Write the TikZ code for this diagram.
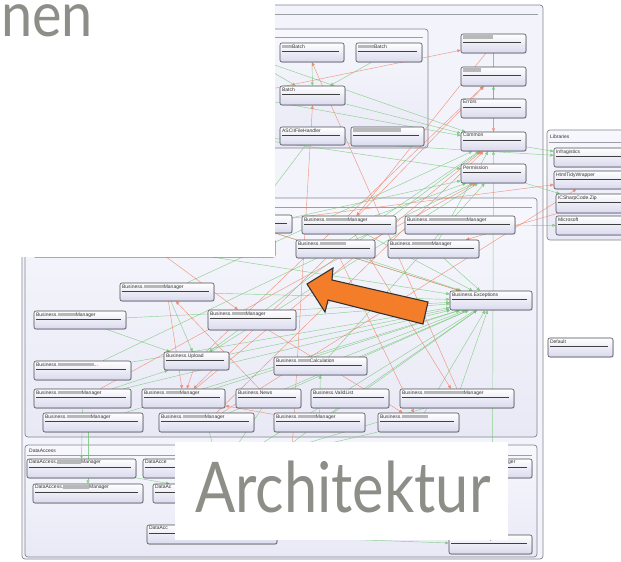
\documentclass[tikz,border=0pt]{standalone}
\usepackage{fontspec}
\setmainfont{Liberation Sans}
\newfontfamily\boxfont{Liberation Sans}
\newfontfamily\slidefont{Lato}
\usetikzlibrary{arrows.meta,shadows}

\definecolor{lav}{HTML}{D9D9EE}
\definecolor{boxline}{HTML}{4C4C55}
\definecolor{framefill}{HTML}{E9E9F6}
\definecolor{framefilltop}{HTML}{F7F7FD}
\definecolor{outerfill}{HTML}{F3F3FB}
\definecolor{frameline}{HTML}{85858F}
\definecolor{depgreen}{HTML}{72C872}
\definecolor{depred}{HTML}{EF8062}
\definecolor{slidegray}{HTML}{8E8E89}
\definecolor{arroworange}{HTML}{F47D2A}

\pgfdeclarelayer{frames}
\pgfdeclarelayer{edges}
\pgfdeclarelayer{cover}
\pgfsetlayers{frames,edges,main,cover}

\tikzset{
  klassbox/.style={draw=boxline, line width=0.6pt, rounded corners=2pt,
    top color=white, bottom color=lav, inner sep=0pt,
    drop shadow={shadow xshift=0.7pt, shadow yshift=-0.7pt, opacity=0.3}},
  klasstext/.style={anchor=north west, inner sep=0pt,
    font=\boxfont\fontsize{5}{5}\selectfont, text=black!80},
  klassrule/.style={draw=black!75, line width=0.55pt},
  groupbox/.style={draw=frameline, line width=0.7pt, rounded corners=3pt,
    top color=framefilltop, bottom color=framefill, inner sep=0pt},
  outerbox/.style={draw=frameline, line width=0.7pt, rounded corners=3pt,
    fill=outerfill, inner sep=0pt},
  grouprule/.style={draw=frameline!80, line width=0.5pt},
  grouptitle/.style={anchor=west, inner sep=0pt,
    font=\boxfont\fontsize{5}{5}\selectfont, text=black!80},
  gdep/.style={draw=depgreen, line width=0.45pt, opacity=0.8,
    -{Triangle[length=3.4pt,width=3pt]}},
  rdep/.style={draw=depred, line width=0.45pt, opacity=0.8,
    -{Triangle[length=3.4pt,width=3pt]}},
  slidetitle/.style={inner sep=0pt, text=slidegray, font=\slidefont},
  bigarrow/.style={fill=arroworange, draw=black!80, line width=1.1pt, line join=miter}
}

% blurred part of a class name
\newcommand\smear[1]{\textcolor{black!28}{\rule[-0.2pt]{#1pt}{3.6pt}}}

% class box: name, x1, y1, x2, y2, label
\newcommand\klass[6]{%
  \pgfmathsetmacro\klW{#4-#2}%
  \pgfmathsetmacro\klH{#5-#3}%
  \node[klassbox, minimum width=\klW pt, minimum height=\klH pt] (#1) at ({(#2+#4)/2},{(#3+#5)/2}) {};
  \node[klasstext] (#1-t) at ([xshift=2.2pt,yshift=-1.5pt]#1.north west) {#6};
  \draw[klassrule] ([xshift=2.2pt,yshift=-8.2pt]#1.north west) -- ([xshift=-5pt,yshift=-8.2pt]#1.north east);
}

% group frame: [style] name, x1, y1, x2, y2, header rule y
\newcommand\grp[7][groupbox]{%
  \pgfmathsetmacro\klW{#5-#3}%
  \pgfmathsetmacro\klH{#6-#4}%
  \begin{pgfonlayer}{frames}
  \node[#1, minimum width=\klW pt, minimum height=\klH pt] (#2) at ({(#3+#5)/2},{(#4+#6)/2}) {};
  \draw[grouprule] (#3+2,#7) -- (#5-5,#7);
  \end{pgfonlayer}
}

\newcommand\gd[2]{\draw[gdep] (#1) -- (#2);}
\newcommand\rd[2]{\draw[rdep] (#1) -- (#2);}

\begin{document}
\begin{tikzpicture}[x=1pt,y=-1pt]
\useasboundingbox (0,0) rectangle (621,562);
\clip (0,0) rectangle (621,562);
\begin{pgfonlayer}{frames}
\fill[white] (0,0) rectangle (621,562);
\end{pgfonlayer}

% ---------- frames ----------
\grp[outerbox]{system}{22}{5}{543}{559}{14}
\grp{batchgrp}{150}{29}{428}{148}{37}
\grp{bizgrp}{25}{198}{537}{437}{207}
\grp{dagrp}{25}{445}{537}{557}{455}
\grp{libgrp}{547}{130}{632}{240}{142}
\node[grouptitle] (libtitle) at (550,137) {Libraries};
\node[grouptitle] (datitle) at (29,451) {DataAccess};

% ---------- batch group ----------
\klass{tl1}{205}{43}{273}{62}{}
\klass{tl2}{205}{86}{273}{105}{}
\klass{tl3}{205}{127}{273}{146}{}
\klass{bA}{280}{43}{344}{62}{\smear{10}Batch}
\klass{bB}{356}{43}{422}{62}{\smear{16}Batch}
\klass{batch}{280}{86}{345}{105}{Batch}
\klass{ascii}{280}{127}{345}{145}{ASCIIFileHandler}
\klass{bC}{351}{127}{424}{146}{\smear{48}}

% ---------- shared components ----------
\klass{r1}{461}{34}{526}{53}{\smear{30}}
\klass{r2}{461}{67}{526}{86}{\smear{18}}
\klass{errors}{461}{99}{526}{118}{Errors}
\klass{common}{461}{132}{526}{151}{Common}
\klass{perm}{461}{164}{526}{183}{Permission}

% ---------- libraries ----------
\klass{infra}{554}{148}{628}{167}{Infragistics}
\klass{html}{554}{171}{628}{189}{HtmlTidyWrapper}
\klass{zip}{556}{194}{628}{213}{ICSharpCode.Zip}
\klass{ms}{556}{216}{628}{235}{Microsoft}
\klass{default}{548}{338}{613}{357}{Default}

% ---------- business ----------
\klass{bzh}{33}{239}{275}{257}{}
\klass{bz0}{200}{215}{292}{233}{}
\klass{bz1}{302}{216}{396}{234}{Business.\smear{22}Manager}
\klass{bz2}{405}{216}{515}{234}{Business.\smear{38}Manager}
\klass{bz3}{296}{240}{375}{258}{Business.\smear{26}}
\klass{bz4}{388}{240}{479}{258}{Business.\smear{20}Manager}
\klass{bz5}{120}{283}{214}{301}{Business.\smear{20}Manager}
\klass{bz6}{34}{311}{126}{329}{Business.\smear{18}Manager}
\klass{bz7}{208}{310}{296}{330}{Business.\smear{14}Manager}
\klass{upload}{164}{352}{229}{370}{Business.Upload}
\klass{bz8}{34}{361}{131}{380}{Business.\smear{36}...}
\klass{calc}{274}{357}{367}{375}{Business.\smear{12}Calculation}
\klass{exc}{450}{291}{532}{310}{Business.Exceptions}
\klass{bz9}{34}{389}{131}{408}{Business.\smear{24}Manager}
\klass{bz10}{142}{389}{225}{408}{Business.\smear{14}Manager}
\klass{news}{236}{389}{301}{408}{Business.News}
\klass{valid}{311}{389}{389}{408}{Business.ValidList}
\klass{bz11}{400}{389}{514}{408}{Business.\smear{40}Manager}
\klass{bz12}{43}{413}{143}{432}{Business.\smear{24}Manager}
\klass{bz13}{159}{413}{254}{432}{Business.\smear{22}Manager}
\klass{bz14}{274}{413}{365}{432}{Business.\smear{18}Manager}
\klass{bz15}{378}{413}{459}{432}{Business.\smear{26}}

% ---------- data access ----------
\klass{da1}{27}{459}{136}{478}{DataAccess.\smear{24}Manager}
\klass{da2}{143}{459}{300}{478}{DataAcce}
\klass{da3}{405}{459}{532}{478}{}
\node[klasstext] (da3-tail) at (508,460.5) {ger};
\klass{da4}{33}{484}{143}{503}{DataAccess.\smear{26}Manager}
\klass{da5}{153}{484}{300}{503}{DataAc}
\klass{da6}{147}{525}{277}{544}{DataAcc}
\klass{daexc}{449}{535}{532}{554}{DataAccess.Exceptions}

% ---------- dependencies ----------
\begin{pgfonlayer}{edges}
\gd{bA}{batch}
\gd{bB}{batch}
\gd{tl1}{batch}
\gd{tl1}{common}
\gd{tl2}{common}
\gd{tl3}{perm}
\gd{batch}{common}
\gd{tl3}{infra}
\gd{ascii}{bz0}
\gd{errors}{r2}
\gd{[xshift=24pt]da3.north}{common}
\gd{common}{infra}
\gd{perm}{zip}
\gd{bz2}{ms}
\gd{bz4}{common}
\gd{bz3}{common}
\gd{bz1}{perm}
\gd{bzh}{perm}
\gd{bz5}{common}
\gd{bz8}{perm}
\gd{upload}{perm}
\gd{bz7}{common}
\gd{calc}{perm}
\foreach \src in {bz5,bz6,bz7,upload,bz8,calc,bz9,bz10,news,valid,bz12,bz13,bz14,bz15,bz11,bz3,bz4,bz1,bzh,bz0}
  {\gd{\src}{exc}}
\gd{bz5}{upload}
\gd{bz6}{upload}
\gd{bz7}{upload}
\gd{bz9}{upload}
\gd{bz14}{calc}
\gd{bz9.south}{da1.north}
\gd{[xshift=-5pt]bz12.south}{da4.north}
\gd{exc}{da2}
\gd{bz11}{da2}
\gd{bz15}{da2}
\gd{news}{da2}
\gd{valid}{da5}
\gd{da1}{da5}
\gd{da6}{daexc}
\gd{bz13}{da5}

\rd{tl2}{r1}
\rd{bz11.north}{bA.south}
\rd{[xshift=70pt]da2.north}{batch.south}
\rd{r1}{bz1}
\rd{bz1}{r2}
\rd{r1.south}{common.north}
\rd{bz0}{html}
\rd{zip}{bz4}
\rd{bz5}{bz10}
\rd{news}{bz5}
\rd{upload}{bz10}
\rd{bz3}{bz10}
\rd{bz14}{bz10}
\rd{bzh}{bz7}
\rd{bz9}{perm}
\rd{bz10}{common}
\rd{upload}{r2}
\rd{bz13}{html}
\rd{bz0}{exc}
\rd{bz13}{common}
\rd{bz7}{bz15}
\rd{bz3}{bz15}
\rd{bz1}{bz11}
\end{pgfonlayer}

% ---------- slide overlay ----------
\begin{pgfonlayer}{cover}
\fill[white] (0,0) rectangle (275,257);
\fill[white] (175,442) rectangle (508,540);
\node[slidetitle, anchor=base west, text height=0.52em, text depth=0pt,
  font=\slidefont\fontsize{62}{62}\selectfont] (headword) at (1,36) {\scalebox{0.9}[1]{nen}};
\node[slidetitle, anchor=base west, font=\slidefont\fontsize{70}{70}\selectfont] (caption) at (195,512) {\scalebox{0.85}[1]{Architektur}};
\draw[bigarrow] (307,284) -- (333,268) -- (332,280) -- (428,302) -- (423,324) -- (328,300) -- (325,312) -- cycle;
\end{pgfonlayer}
\end{tikzpicture}
\end{document}
